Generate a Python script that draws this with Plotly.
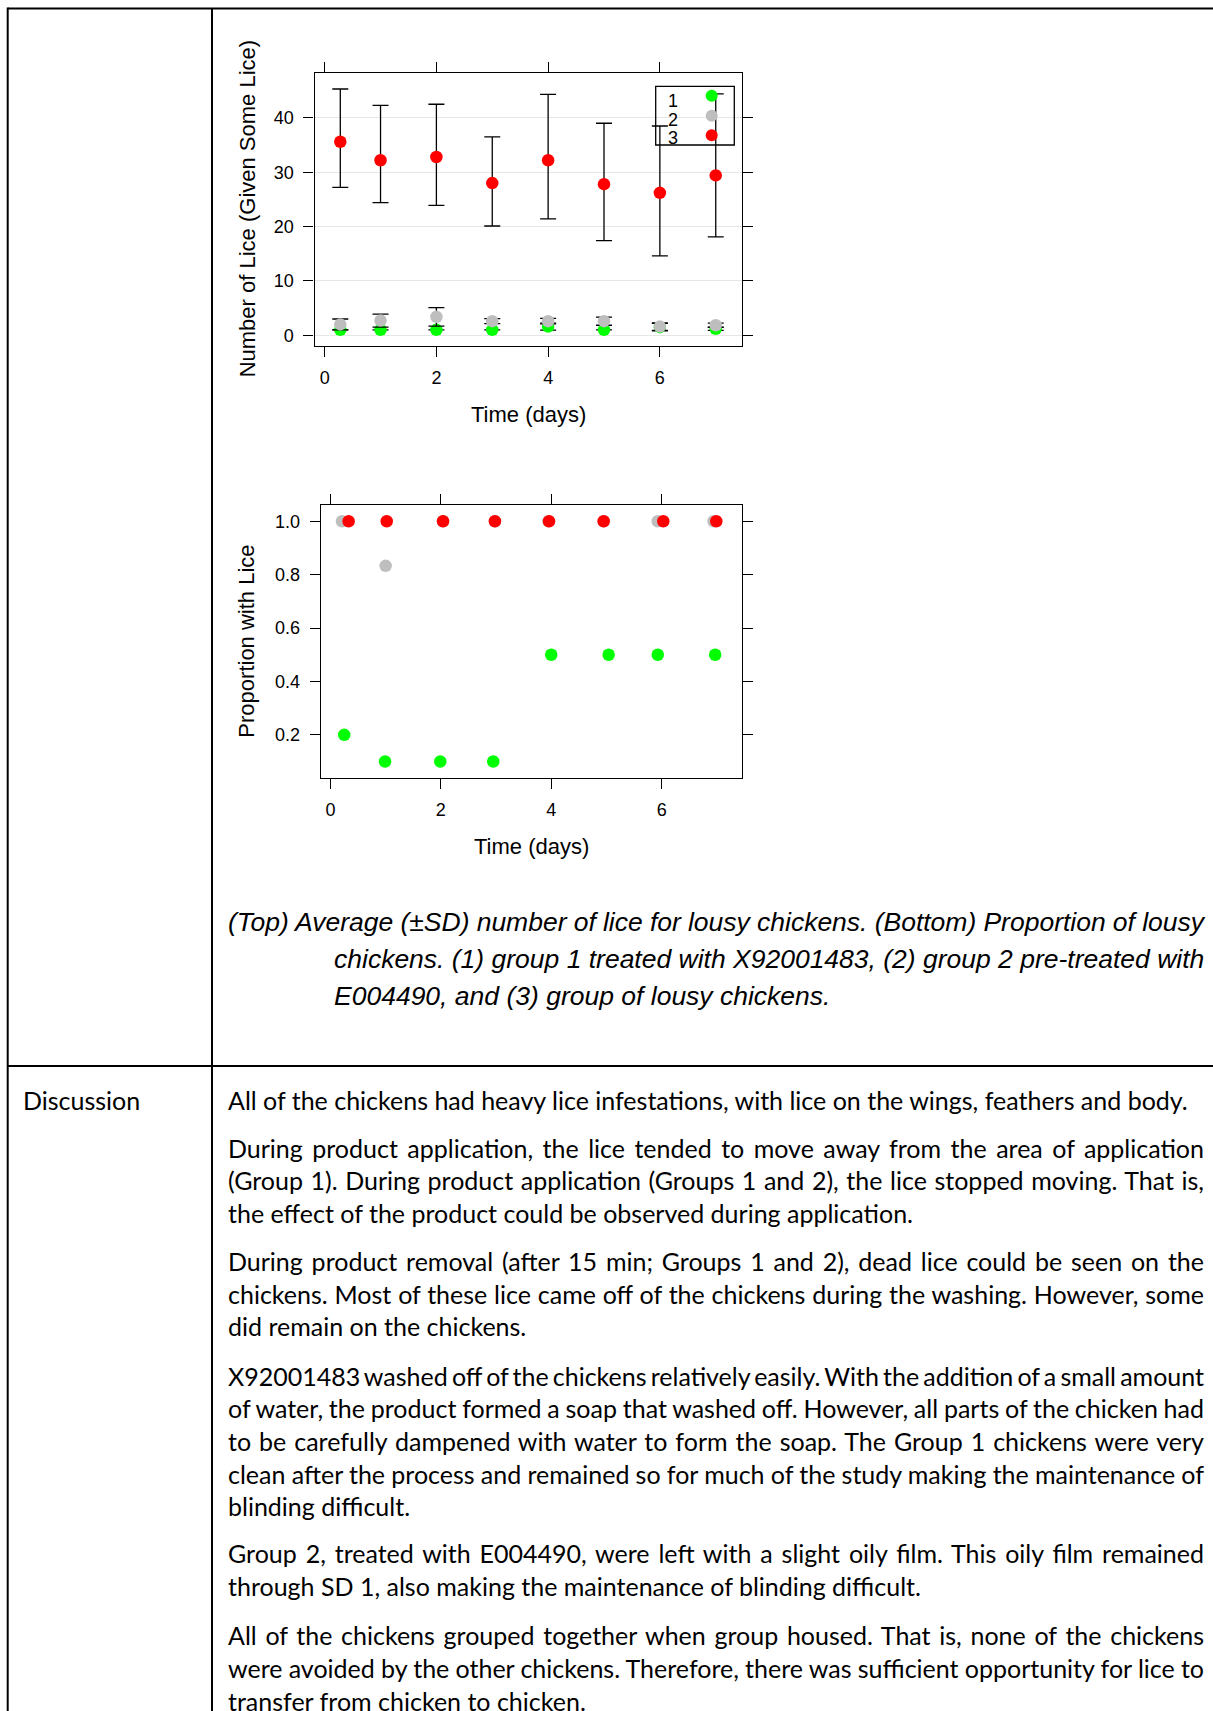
import json
import plotly.graph_objects as go

W, H = 1213, 1711


def px(x):
    return x / W


def py(y):
    return 1 - y / H


# ---------------- data ----------------
groups = ["1", "2", "3"]
colors = ["#00ff00", "#bebebe", "#ff0000"]

# Top panel: average number of lice (given some lice), with SD bars
days_top = [0.28, 1, 2, 3, 4, 5, 6, 7]
g1_lice = [1.0, 1.0, 1.0, 1.0, 1.6, 1.0, 1.5, 1.2]
g1_sd = [None, None, None, None, 0.65, 0.0, 0.7, 0.3]
g2_lice = [2.0, 2.7, 3.4, 2.6, 2.6, 2.6, 1.6, 1.85]
g2_sd = [1.0, 1.2, 1.7, 0.45, 0.5, 0.75, 0.7, 0.4]
g3_lice = [35.6, 32.2, 32.8, 28.0, 32.2, 27.8, 26.2, 29.4]
g3_hi = [45.3, 42.3, 42.5, 36.5, 44.3, 39.0, 38.5, 44.4]
g3_lo = [27.2, 24.4, 23.9, 20.1, 21.4, 17.4, 14.6, 18.1]

# Bottom panel: proportion of chickens with lice
g1_days = [0.25, 0.99, 1.99, 2.95, 4.0, 5.04, 5.93, 6.97]
g1_prop = [0.2, 0.1, 0.1, 0.1, 0.5, 0.5, 0.5, 0.5]
g2_days = [0.21, 1.0, 2.04, 2.98, 3.95, 4.95, 5.93, 6.94]
g2_prop = [1.0, 0.833, 1.0, 1.0, 1.0, 1.0, 1.0, 1.0]
g3_days = [0.33, 1.02, 2.04, 2.98, 3.96, 4.95, 6.03, 6.99]
g3_prop = [1.0, 1.0, 1.0, 1.0, 1.0, 1.0, 1.0, 1.0]

x_ticks = [0, 2, 4, 6]
top_y_ticks = [0, 10, 20, 30, 40]
bot_y_ticks = [0.2, 0.4, 0.6, 0.8, 1.0]

caption_lines = [
    "(Top) Average (\u00b1SD) number of lice for lousy chickens. (Bottom) Proportion of lousy",
    "chickens. (1) group 1 treated with X92001483, (2) group 2 pre-treated with",
    "E004490, and (3) group of lousy chickens.",
]

discussion_paragraphs = [
    ["All of the chickens had heavy lice infestations, with lice on the wings, feathers and body."],
    ["During product application, the lice tended to move away from the area of application",
     "(Group 1). During product application (Groups 1 and 2), the lice stopped moving. That is,",
     "the effect of the product could be observed during application."],
    ["During product removal (after 15 min; Groups 1 and 2), dead lice could be seen on the",
     "chickens. Most of these lice came off of the chickens during the washing. However, some",
     "did remain on the chickens."],
    ["X92001483 washed off of the chickens relatively easily. With the addition of a small amount",
     "of water, the product formed a soap that washed off. However, all parts of the chicken had",
     "to be carefully dampened with water to form the soap. The Group 1 chickens were very",
     "clean after the process and remained so for much of the study making the maintenance of",
     "blinding difficult."],
    ["Group 2, treated with E004490, were left with a slight oily film. This oily film remained",
     "through SD 1, also making the maintenance of blinding difficult."],
    ["All of the chickens grouped together when group housed. That is, none of the chickens",
     "were avoided by the other chickens. Therefore, there was sufficient opportunity for lice to",
     "transfer from chicken to chicken."],
]

# ---------------- figure ----------------
fig = go.Figure()

ebar = dict(color="black", thickness=1.3, width=8)
MS = 12.5

tops = [(g1_lice, g1_sd), (g2_lice, g2_sd)]
for (vals, sd), name, col in zip(tops, groups[:2], colors[:2]):
    fig.add_trace(go.Scatter(
        x=days_top, y=vals, mode="markers", name=name,
        marker=dict(color=col, size=MS),
        error_y=dict(type="data", symmetric=False, array=sd, arrayminus=sd, **ebar),
        xaxis="x", yaxis="y", showlegend=False))

g3_plus = [h - m for h, m in zip(g3_hi, g3_lice)]
g3_minus = [m - l for m, l in zip(g3_lice, g3_lo)]
fig.add_trace(go.Scatter(
    x=days_top, y=g3_lice, mode="markers", name=groups[2],
    marker=dict(color=colors[2], size=MS),
    error_y=dict(type="data", symmetric=False, array=g3_plus, arrayminus=g3_minus, **ebar),
    xaxis="x", yaxis="y", showlegend=False))

for xs, ys, name, col in zip([g1_days, g2_days, g3_days], [g1_prop, g2_prop, g3_prop], groups, colors):
    fig.add_trace(go.Scatter(
        x=xs, y=ys, mode="markers", name=name,
        marker=dict(color=col, size=MS),
        xaxis="x2", yaxis="y2", showlegend=False))

FONT = "Liberation Sans, Arial, sans-serif"
tickfont = dict(family=FONT, size=18, color="black")
common = dict(ticks="outside", ticklen=10, tickwidth=1.3, tickcolor="black",
              showline=True, linecolor="black", linewidth=1.3, mirror="ticks",
              zeroline=False, tickfont=tickfont, fixedrange=True)

# top panel pixel box
T_L, T_R, T_T, T_B = 314.6, 742.0, 72.7, 346.0
# bottom panel pixel box
B_L, B_R, B_T, B_B = 320.7, 742.0, 505.0, 778.3

fig.update_layout(
    width=W, height=H, autosize=False,
    margin=dict(l=0, r=0, t=0, b=0),
    paper_bgcolor="white", plot_bgcolor="white",
    showlegend=False,
    xaxis=dict(domain=[px(T_L), px(T_R)], range=[-0.18, 7.47], tickvals=x_ticks,
               showgrid=False, anchor="y", ticklabelstandoff=5, **common),
    yaxis=dict(domain=[py(T_B), py(T_T)], range=[-1.97, 48.3], tickvals=top_y_ticks,
               showgrid=True, gridcolor="#e6e6e6", gridwidth=1, anchor="x",
               ticklabelstandoff=6, **common),
    xaxis2=dict(domain=[px(B_L), px(B_R)], range=[-0.176, 7.456], tickvals=x_ticks,
                showgrid=False, anchor="y2", ticklabelstandoff=5, **common),
    yaxis2=dict(domain=[py(B_B), py(B_T)], range=[0.037, 1.061], tickvals=bot_y_ticks,
                tickformat=".1f", showgrid=False, anchor="x2", ticklabelstandoff=6, **common),
)

shapes = []
ann = []

# table grid lines
line = dict(color="black", width=2)
shapes.append(dict(type="line", xref="paper", yref="paper", x0=px(7.7), x1=1.0,
                   y0=py(8.5), y1=py(8.5), line=line))
shapes.append(dict(type="line", xref="paper", yref="paper", x0=px(7.7), x1=px(7.7),
                   y0=py(7.5), y1=0, line=line))
shapes.append(dict(type="line", xref="paper", yref="paper", x0=px(212), x1=px(212),
                   y0=py(8.5), y1=0, line=line))
shapes.append(dict(type="line", xref="paper", yref="paper", x0=px(7.7), x1=1.0,
                   y0=py(1066), y1=py(1066), line=line))

# legend of top panel (text left, symbol right)
shapes.append(dict(type="rect", xref="paper", yref="paper", x0=px(655.7), x1=px(734.3),
                   y0=py(145.0), y1=py(86.3), line=dict(color="black", width=1.3),
                   fillcolor="rgba(0,0,0,0)", layer="above"))
leg_text_y = [101, 120, 138.5]
leg_mark_y = [95.7, 115.7, 135.3]
r = 6.0
for name, col, ty, my in zip(groups, colors, leg_text_y, leg_mark_y):
    ann.append(dict(text=name, xref="paper", yref="paper", x=px(672.5), y=py(ty),
                    xanchor="center", yanchor="middle", showarrow=False,
                    font=dict(family=FONT, size=18, color="black")))
    shapes.append(dict(type="circle", xref="paper", yref="paper",
                       x0=px(711.7 - r), x1=px(711.7 + r), y0=py(my + r), y1=py(my - r),
                       fillcolor=col, line=dict(color=col, width=0), layer="above"))

# axis titles
tfont = dict(family=FONT, size=22, color="black")
ann.append(dict(text="Time (days)", xref="paper", yref="paper", x=px((T_L + T_R) / 2),
                y=py(414.5), xanchor="center", yanchor="middle", showarrow=False, font=tfont))
ann.append(dict(text="Number of Lice (Given Some Lice)", xref="paper", yref="paper",
                x=px(247), y=py((T_T + T_B) / 2), xanchor="center", yanchor="middle",
                textangle=-90, showarrow=False, font=tfont))
ann.append(dict(text="Time (days)", xref="paper", yref="paper", x=px((B_L + B_R) / 2),
                y=py(846.5), xanchor="center", yanchor="middle", showarrow=False, font=tfont))
ann.append(dict(text="Proportion with Lice", xref="paper", yref="paper",
                x=px(247), y=py((B_T + B_B) / 2), xanchor="center", yanchor="middle",
                textangle=-90, showarrow=False, font=tfont))

# caption
RIGHT_EDGE = 1203
cap_font = dict(family=FONT, size=26.5, color="black")
cap_x = [227, 332.7, 332.7]
cap_y = [921.7, 958.8, 995.9]
for txt, cx, cy in zip(caption_lines, cap_x, cap_y):
    ann.append(dict(text="<i>" + txt + "</i>", xref="paper", yref="paper", x=px(cx), y=py(cy),
                    xanchor="left", yanchor="middle", align="left", showarrow=False,
                    borderpad=0, font=cap_font))

# discussion
body_font = dict(family="Lato, Carlito, sans-serif", size=25, color="black")
ann.append(dict(text="Discussion", xref="paper", yref="paper", x=px(21.8), y=py(1099.5),
                xanchor="left", yanchor="middle", align="left", showarrow=False,
                borderpad=0, font=body_font))
para_tops = [1099.5, 1147.5, 1261.0, 1375.5, 1553.3, 1635.1]
LS = 32.7
BODY_X = 227
for p_lines, y0 in zip(discussion_paragraphs, para_tops):
    for i, txt in enumerate(p_lines):
        ann.append(dict(text=txt, xref="paper", yref="paper", x=px(BODY_X), y=py(y0 + i * LS),
                        xanchor="left", yanchor="middle", align="left", showarrow=False,
                        borderpad=0, font=body_font))

fig.update_layout(shapes=shapes, annotations=ann)

# justified lines (all but the last line of each paragraph) -> target widths
justify = {caption_lines[0]: RIGHT_EDGE - cap_x[0], caption_lines[1]: RIGHT_EDGE - cap_x[1]}
for p_lines in discussion_paragraphs:
    for txt in p_lines[:-1]:
        justify[txt] = RIGHT_EDGE - BODY_X

post = """
document.body.style.margin = '0';
document.body.style.padding = '0';
var J = %s;
var els = document.querySelectorAll('text.annotation-text');
for (var i = 0; i < els.length; i++) {
  var el = els[i];
  var t = el.textContent;
  if (J.hasOwnProperty(t)) {
    var w = el.getComputedTextLength();
    var n = (t.match(/ /g) || []).length;
    if (n > 0) { el.style.wordSpacing = ((J[t] - w) / n) + 'px'; }
  }
}
""" % json.dumps(justify)

fig.write_html("out.html", post_script=post, config={"displayModeBar": False})
